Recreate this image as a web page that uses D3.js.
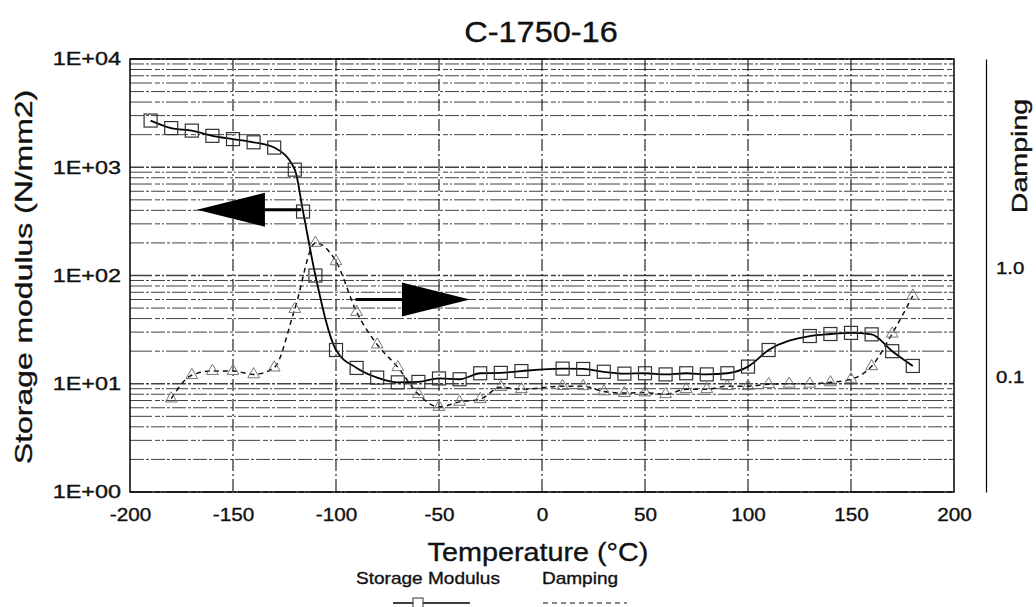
<!DOCTYPE html>
<html>
<head>
<meta charset="utf-8">
<script src="https://cdn.jsdelivr.net/npm/d3@7"></script>
<style>
body { margin: 0; background: #fff; }
svg text { font-family: "Liberation Sans", Arial, sans-serif; fill: #111; stroke: #111; stroke-width: 0.35px; }
</style>
</head>
<body>
<svg id="chart" width="1036" height="607"></svg>
<script>
// storage modulus, N/mm2 (square markers)
var smTemp  = [-190, -180, -170, -160, -150, -140, -130, -120, -116, -110, -100, -90, -80, -70, -60, -50, -40, -30, -20, -10, 10, 20, 30, 40, 50, 60, 70, 80, 90, 100, 110, 130, 140, 150, 160, 170, 180];
var smValue = [2700, 2300, 2180, 1950, 1820, 1700, 1520, 950, 390, 100, 20.5, 14, 11.4, 10.3, 10.4, 11.2, 11, 12.5, 12.6, 13.1, 13.8, 13.7, 12.9, 12.4, 12.5, 12.2, 12.5, 12.2, 12.5, 14.4, 20.5, 27.6, 28.8, 29.5, 28.6, 20, 14.6];

// damping (triangle markers)
var dmTemp  = [-180, -170, -160, -150, -140, -130, -120, -110, -100, -90, -80, -70, -60, -50, -40, -30, -20, -10, 10, 20, 30, 40, 50, 60, 70, 80, 90, 100, 110, 120, 130, 140, 150, 160, 170, 180];
var dmValue = [0.073, 0.12, 0.131, 0.131, 0.122, 0.141, 0.49, 2.0, 1.35, 0.46, 0.23, 0.142, 0.08, 0.061, 0.068, 0.072, 0.093, 0.089, 0.095, 0.095, 0.085, 0.082, 0.083, 0.08, 0.089, 0.089, 0.095, 0.095, 0.099, 0.1, 0.1, 0.103, 0.11, 0.145, 0.29, 0.65];

var xTicks = [-200, -150, -100, -50, 0, 50, 100, 150, 200];
var yTicks = [1, 10, 100, 1000, 10000];
var yTickLabels = ["1E+00", "1E+01", "1E+02", "1E+03", "1E+04"];
var dampTicks = [0.1, 1.0];

// annotation arrows: [from temp, to temp, level on the modulus axis]
var leftArrow  = {from: -117, head: -134.5, tip: -167.5, level: 405};
var rightArrow = {from: -90.5, head: -68, tip: -35, level: 60};

var svg = d3.select("#chart");

var x = d3.scaleLinear().domain([-200, 200]).range([130, 954]);
var y = d3.scaleLog().domain([1, 10000]).range([492, 59]);
var yD = d3.scaleLog().domain([0.01, 100]).range([492, 59]);

// widen glyphs a little, the source font is an extended grotesque
function stretch(sel, k) {
    sel.each(function() {
        var w = this.getComputedTextLength();
        d3.select(this).attr("textLength", w * k).attr("lengthAdjust", "spacingAndGlyphs");
    });
}

// log grid lines (1..9 per decade)
var gridVals = [];
[1, 10, 100, 1000].forEach(function(d) {
    for (var k = 1; k < 10; k++) gridVals.push(d * k);
});
gridVals.push(10000);

var grid = svg.append("g").attr("class", "grid");
grid.selectAll("line.h")
    .data(gridVals)
    .enter().append("line")
    .attr("class", "h")
    .attr("x1", x(-200)).attr("x2", x(200))
    .attr("y1", function(d) { return y(d); })
    .attr("y2", function(d) { return y(d); })
    .attr("stroke", "#222")
    .attr("stroke-width", function(d) { return yTicks.indexOf(d) >= 0 ? 1.3 : 1; })
    .attr("stroke-dasharray", function(d, i) { return i % 2 ? "14,2,3,2" : "22,3,5,2,2,2"; })
    .attr("opacity", 0.85);

grid.selectAll("line.v")
    .data(xTicks.slice(1, -1))
    .enter().append("line")
    .attr("class", "v")
    .attr("x1", function(d) { return x(d); })
    .attr("x2", function(d) { return x(d); })
    .attr("y1", y(10000)).attr("y2", y(1))
    .attr("stroke", "#111")
    .attr("stroke-width", 1.1)
    .attr("stroke-dasharray", "12,3,2,3");

// plot frame
svg.append("rect")
    .attr("x", x(-200)).attr("y", y(10000))
    .attr("width", x(200) - x(-200))
    .attr("height", y(1) - y(10000))
    .attr("fill", "none")
    .attr("stroke", "#000")
    .attr("stroke-width", 1.5);

// axes
var xAxis = svg.append("g")
    .attr("transform", "translate(0," + y(1) + ")")
    .call(d3.axisBottom(x).tickValues(xTicks).tickSize(0).tickPadding(16)
        .tickFormat(function(d) { return String(d); }));
xAxis.select(".domain").remove();
xAxis.selectAll("text").attr("font-size", 18).attr("fill", "#111").call(stretch, 1.15);

var yAxis = svg.append("g")
    .attr("transform", "translate(" + x(-200) + ",0)")
    .call(d3.axisLeft(y).tickValues(yTicks).tickSize(0).tickPadding(9)
        .tickFormat(function(d, i) { return yTickLabels[i]; }));
yAxis.select(".domain").remove();
yAxis.selectAll("text").attr("font-size", 18).attr("fill", "#111").call(stretch, 1.3);

var dAxis = svg.append("g")
    .attr("transform", "translate(986,0)")
    .call(d3.axisRight(yD).tickValues(dampTicks).tickSize(0).tickSizeOuter(0).tickPadding(10)
        .tickFormat(d3.format(".1f")));
dAxis.select(".domain").attr("stroke", "#000").attr("stroke-width", 1.2);
dAxis.selectAll("text").attr("font-size", 17).attr("fill", "#111").attr("dy", "-0.1em").call(stretch, 1.2);

// curves
var smData = smTemp.map(function(t, i) { return {t: t, v: smValue[i]}; });
var dmData = dmTemp.map(function(t, i) { return {t: t, v: dmValue[i]}; });

svg.append("path")
    .datum(dmData)
    .attr("fill", "none")
    .attr("stroke", "#111")
    .attr("stroke-width", 1.5)
    .attr("stroke-dasharray", "5,4")
    .attr("d", d3.line()
        .x(function(d) { return x(d.t); })
        .y(function(d) { return yD(d.v); })
        .curve(d3.curveMonotoneX));

svg.append("path")
    .datum(smData)
    .attr("fill", "none")
    .attr("stroke", "#000")
    .attr("stroke-width", 1.8)
    .attr("d", d3.line()
        .x(function(d) { return x(d.t); })
        .y(function(d) { return y(d.v); })
        .curve(d3.curveMonotoneX));

// markers
var tri = d3.symbol().type(d3.symbolTriangle).size(60);
svg.append("g").selectAll("path")
    .data(dmData)
    .enter().append("path")
    .attr("d", tri)
    .attr("transform", function(d) { return "translate(" + x(d.t) + "," + yD(d.v) + ")"; })
    .attr("fill", "none")
    .attr("stroke", "#777")
    .attr("stroke-width", 1);

svg.append("g").selectAll("rect")
    .data(smData)
    .enter().append("rect")
    .attr("x", function(d) { return x(d.t) - 6.5; })
    .attr("y", function(d) { return y(d.v) - 6.5; })
    .attr("width", 13).attr("height", 13)
    .attr("fill", "none")
    .attr("stroke", "#333")
    .attr("stroke-width", 1.2);

// arrows
function arrow(a, yy) {
    var g = svg.append("g");
    var cy = yy(a.level);
    g.append("line")
        .attr("x1", x(a.from)).attr("x2", x(a.head))
        .attr("y1", cy).attr("y2", cy)
        .attr("stroke", "#000").attr("stroke-width", 3);
    g.append("path")
        .attr("d", "M" + x(a.tip) + "," + cy + "L" + x(a.head) + "," + (cy - 17) +
            "L" + x(a.head) + "," + (cy + 17) + "Z")
        .attr("fill", "#000");
}
arrow(leftArrow, y);
arrow(rightArrow, y);

// titles
svg.append("text")
    .attr("x", 541).attr("y", 42)
    .attr("text-anchor", "middle")
    .attr("font-size", 29)
    .text("C-1750-16")
    .call(stretch, 1.12);

svg.append("text")
    .attr("x", 538).attr("y", 561)
    .attr("text-anchor", "middle")
    .attr("font-size", 25)
    .text("Temperature (\u00B0C)")
    .call(stretch, 1.15);

svg.append("text")
    .attr("transform", "translate(32,277) rotate(-90)")
    .attr("text-anchor", "middle")
    .attr("font-size", 24)
    .text("Storage modulus (N/mm2)")
    .call(stretch, 1.33);

svg.append("text")
    .attr("transform", "translate(1027,156) rotate(-90)")
    .attr("text-anchor", "middle")
    .attr("font-size", 22)
    .text("Damping")
    .call(stretch, 1.3);

// legend
var legend = svg.append("g");
legend.append("text")
    .attr("x", 428).attr("y", 584)
    .attr("text-anchor", "middle")
    .attr("font-size", 17)
    .text("Storage Modulus")
    .call(stretch, 1.12);
legend.append("line")
    .attr("x1", 393).attr("x2", 470).attr("y1", 603).attr("y2", 603)
    .attr("stroke", "#000").attr("stroke-width", 1.5);
legend.append("rect")
    .attr("x", 413).attr("y", 598).attr("width", 10).attr("height", 10)
    .attr("fill", "#fff").attr("stroke", "#333");
legend.append("text")
    .attr("x", 580).attr("y", 584)
    .attr("text-anchor", "middle")
    .attr("font-size", 17)
    .text("Damping")
    .call(stretch, 1.12);
legend.append("line")
    .attr("x1", 543).attr("x2", 627).attr("y1", 603).attr("y2", 603)
    .attr("stroke", "#111").attr("stroke-width", 1.2).attr("stroke-dasharray", "5,4");
</script>
</body>
</html>
